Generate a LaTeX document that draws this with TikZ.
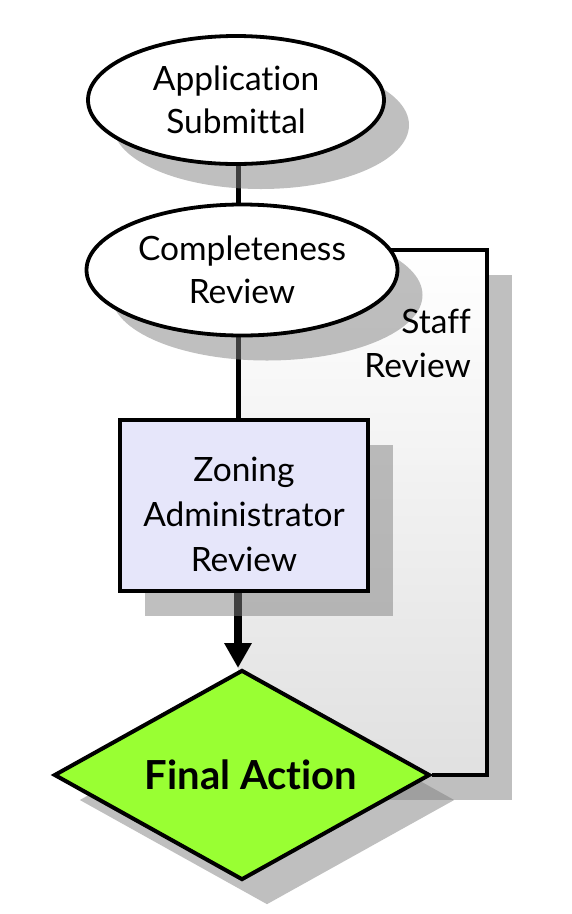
\documentclass[tikz,border=0pt]{standalone}
\usepackage{fontspec}
\setmainfont{Lato}[Ligatures=NoCommon]
\usetikzlibrary{shapes.geometric,shadows,arrows.meta}

\pgfdeclarelayer{back}
\pgfdeclarelayer{background}
\pgfsetlayers{back,background,main}

\definecolor{boxblue}{RGB}{230,230,250}
\definecolor{actiongreen}{RGB}{153,255,51}

\tikzset{
  castshadow/.style={drop shadow={shadow xshift=25pt,shadow yshift=-25pt}},
  labelfont/.style={node font={\fontsize{33.5}{43}\selectfont}},
  stage/.style={ellipse, draw, line width=3.8pt, fill=white, inner sep=0pt,
    align=center, labelfont, castshadow},
  reviewbox/.style={rectangle, draw, line width=4pt, fill=boxblue, inner sep=0pt,
    minimum width=248pt, minimum height=171pt, align=center,
    node font={\fontsize{33.5}{45}\selectfont}, castshadow},
  actiondiamond/.style={diamond, draw, line width=4pt, fill=actiongreen, inner sep=0pt,
    aspect=1.78, minimum width=376pt, minimum height=210pt,
    node font={\fontsize{40}{48}\selectfont\bfseries}, castshadow},
  stafflabel/.style={anchor=east, align=right, inner sep=0pt,
    node font={\fontsize{33.5}{44}\selectfont}},
  staffarea/.style={top color=white, bottom color=black!12, castshadow},
  link/.style={line width=5pt},
  flowarrow/.style={line width=7.5pt, -{Triangle[width=26pt,length=25pt]}},
  staffline/.style={line width=4pt, line join=miter}
}

\begin{document}
\begin{tikzpicture}[x=1pt,y=-1pt]
  \useasboundingbox (0,0) rectangle (571,914);

  % Stages
  \node[stage, minimum width=296pt, minimum height=128pt] (submittal) at (236,100) {Application\\Submittal};
  \node[stage, minimum width=311pt, minimum height=131pt] (completeness) at (242,270) {Completeness\\Review};
  \node[reviewbox] (zoning) at (244,505) {\rule{0pt}{44pt}Zoning\\Administrator\\Review};
  \node[actiondiamond] (final) at (242,775) {\hspace*{18pt}Final Action};

  % Staff loop
  \coordinate (spine) at (238,0);
  \coordinate (staffNE) at (487,250);
  \coordinate (staffSE) at (487,775);
  \node[stafflabel] (staff) at (471,343) {Staff\\Review};

  \begin{pgfonlayer}{back}
    \path[staffarea] (spine |- staffNE) rectangle (staffSE);
  \end{pgfonlayer}

  % Connectors
  \begin{pgfonlayer}{background}
    \draw[link] (spine |- submittal) -- (spine |- completeness);
    \draw[link] (spine |- completeness) -- (spine |- zoning);
    \draw[flowarrow] (spine |- zoning.south) -- (spine |- final.north);
    \draw[staffline] (completeness |- staffNE) -- (staffNE) -- (staffSE) -- (final.east);
  \end{pgfonlayer}

\end{tikzpicture}
\end{document}
